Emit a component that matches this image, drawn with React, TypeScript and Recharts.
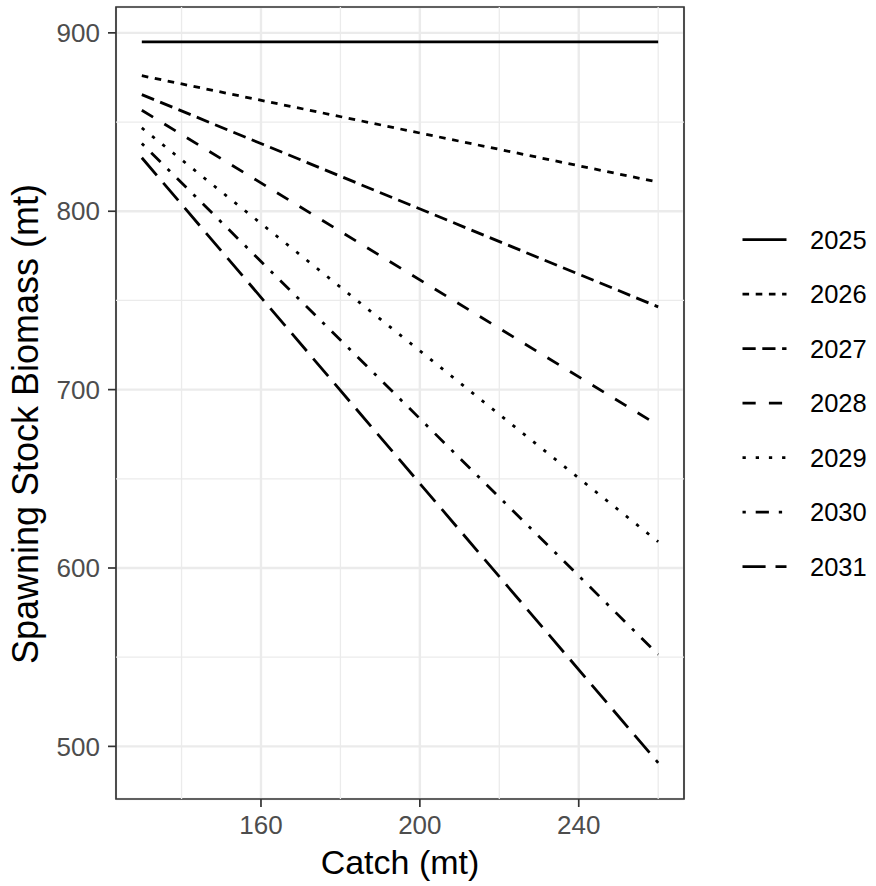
import React from 'react';
import { LineChart, Line, XAxis, YAxis, CartesianGrid, ReferenceLine, ReferenceArea, Label } from 'recharts';

const catchValues = [130, 260];
const years = ['2025', '2026', '2027', '2028', '2029', '2030', '2031'];
const ssb2025 = [895, 895];
const ssb2026 = [876, 816.3];
const ssb2027 = [865.4, 746.4];
const ssb2028 = [856.6, 680];
const ssb2029 = [846.7, 614.7];
const ssb2030 = [838, 551.5];
const ssb2031 = [830, 490.8];
const seriesValues = [ssb2025, ssb2026, ssb2027, ssb2028, ssb2029, ssb2030, ssb2031];

const xTicks = [160, 200, 240];
const yTicks = [500, 600, 700, 800, 900];
const xMinor = [140, 180, 220, 260];
const yMinor = [550, 650, 750, 850];

const U = 3.3;
const dashes = [
  undefined,
  `${2 * U} ${2 * U}`,
  `${4 * U} ${2 * U}`,
  `${4 * U} ${4 * U}`,
  `${U} ${3 * U}`,
  `${U} ${3 * U} ${4 * U} ${3 * U}`,
  `${7 * U} ${3 * U}`,
];

const FONT = '"Liberation Sans", Arial, sans-serif';
const LW = 2.8;

const series = years.map((yr, i) => ({
  year: yr,
  dash: dashes[i],
  data: catchValues.map((c, j) => ({ x: c, y: seriesValues[i][j] })),
}));

export default function App() {
  return (
    <div style={{ position: 'absolute', left: 0, top: 0, width: 876, height: 886, background: '#fff', fontFamily: FONT }}>
      <LineChart width={876} height={886} margin={{ top: 7, right: 192, bottom: 0, left: 0 }}>
        <CartesianGrid stroke="#EBEBEB" strokeWidth={2.4} />
        {xMinor.map((v) => (
          <ReferenceLine key={'xm' + v} x={v} stroke="#EBEBEB" strokeWidth={1.3} />
        ))}
        {yMinor.map((v) => (
          <ReferenceLine key={'ym' + v} y={v} stroke="#EBEBEB" strokeWidth={1.3} />
        ))}
        <XAxis
          type="number"
          dataKey="x"
          domain={[123.5, 266.5]}
          allowDataOverflow
          ticks={xTicks}
          height={87}
          axisLine={false}
          tickLine={{ stroke: '#333333', strokeWidth: 1.7 }}
          tickSize={8}
          tickMargin={9}
          tick={{ fill: '#4D4D4D', fontSize: 26, fontFamily: FONT }}
        >
          <Label
            content={(props: any) => {
              const vb = props.viewBox;
              return (
                <text x={vb.x + vb.width / 2} y={vb.y + 75} textAnchor="middle" fontSize={34} fontFamily={FONT} fill="#000">
                  Catch (mt)
                </text>
              );
            }}
          />
        </XAxis>
        <YAxis
          type="number"
          dataKey="y"
          domain={[470.5, 914.5]}
          allowDataOverflow
          ticks={yTicks}
          width={116}
          axisLine={false}
          tickLine={{ stroke: '#333333', strokeWidth: 1.7 }}
          tickSize={8}
          tickMargin={8}
          tick={{ fill: '#4D4D4D', fontSize: 26, fontFamily: FONT }}
        >
          <Label
            content={(props: any) => {
              const vb = props.viewBox;
              const cy = vb.y + vb.height / 2 + 21;
              return (
                <text x={38} y={cy} transform={`rotate(-90 38 ${cy})`} textAnchor="middle" fontSize={36} fontFamily={FONT} fill="#000">
                  Spawning Stock Biomass (mt)
                </text>
              );
            }}
          />
        </YAxis>
        {series.map((s) => (
          <Line
            key={s.year}
            data={s.data}
            dataKey="y"
            name={s.year}
            stroke="#000"
            strokeWidth={LW}
            strokeDasharray={s.dash}
            strokeLinecap="butt"
            dot={false}
            activeDot={false}
            isAnimationActive={false}
          />
        ))}
        <ReferenceArea x1={123.5} x2={266.5} y1={470.5} y2={914.5} fill="none" fillOpacity={0} stroke="#333333" strokeWidth={1.7} ifOverflow="visible" />
      </LineChart>
      <svg width={876} height={886} style={{ position: 'absolute', left: 0, top: 0, pointerEvents: 'none' }}>
        {series.map((s, i) => {
          const cy = 239.7 + i * 54.5;
          return (
            <g key={s.year}>
              <line x1={742.5} x2={786.5} y1={cy} y2={cy} stroke="#000" strokeWidth={LW} strokeDasharray={s.dash} />
              <text x={810} y={cy + 9.2} fontSize={25.5} fontFamily={FONT} fill="#000">
                {s.year}
              </text>
            </g>
          );
        })}
      </svg>
    </div>
  );
}
